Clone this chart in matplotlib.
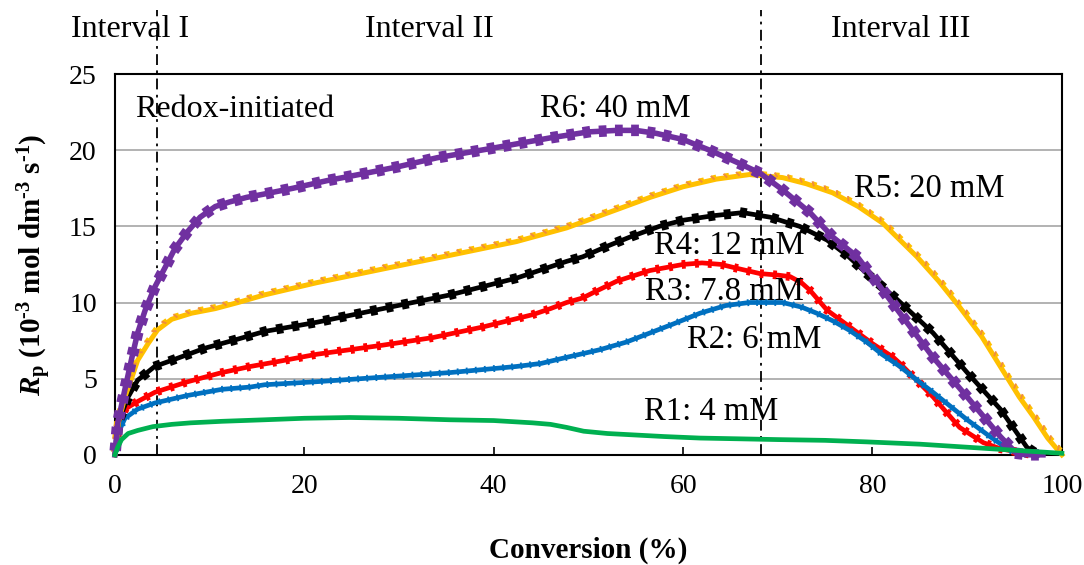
import matplotlib
matplotlib.use("Agg")
import matplotlib.pyplot as plt
import matplotlib.patheffects as pe

plt.rcParams['font.family'] = ['Liberation Serif', 'DejaVu Serif']
plt.rcParams['mathtext.fontset'] = 'custom'
plt.rcParams['mathtext.rm'] = 'Liberation Serif:bold'
plt.rcParams['mathtext.it'] = 'Liberation Serif:italic:bold'
plt.rcParams['mathtext.bf'] = 'Liberation Serif:bold'

# rate of polymerisation vs conversion, one pair of lists per run
conv_r1 = [0, 0.3, 0.7, 1.4, 2.4, 4, 6, 8, 11.3, 15.8, 20, 24.8, 30, 35.4, 40, 44.1, 46,
           47.7, 49.5, 52, 55, 58, 61.8, 66, 70, 75, 79.4, 85, 90, 95, 100]
rp_r1 = [0, 0.5, 1.0, 1.4, 1.6, 1.85, 2.0, 2.1, 2.2, 2.3, 2.4, 2.45, 2.4, 2.3, 2.25, 2.1, 2.0,
         1.8, 1.55, 1.4, 1.3, 1.2, 1.1, 1.05, 1.0, 0.95, 0.85, 0.7, 0.5, 0.3, 0.1]

conv_r2 = [0, 0.4, 1.06, 2.4, 4.2, 7.7, 11.3, 14.3, 15.8, 21.3, 28.3, 35.4, 42.4, 45, 47.7,
           51.2, 54, 56.5, 59, 61.8, 64.5, 67, 70.5, 72.5, 74.1, 75.8, 77.5, 79.4, 81, 82.9,
           84.5, 86.4, 88, 90, 92.4, 94.5, 96]
rp_r2 = [0, 1.5, 2.4, 3.0, 3.4, 3.9, 4.3, 4.45, 4.6, 4.8, 5.1, 5.4, 5.8, 6.0, 6.4,
         6.9, 7.4, 8.0, 8.6, 9.3, 9.8, 10.0, 10.0, 9.7, 9.3, 8.8, 8.2, 7.4, 6.6, 5.8,
         5.0, 4.1, 3.3, 2.3, 1.2, 0.3, 0]

conv_r3 = [0, 0.4, 1.06, 2.4, 4.2, 7.7, 11.3, 14.3, 17, 21.3, 28.3, 33.6, 38.9, 41.5, 44.1,
           46, 47.7, 49.4, 51, 53, 56.5, 60, 62, 64, 66, 68.1, 70, 71.3, 72.5, 73.4, 75.2,
           77.6, 80, 82.2, 82.9, 84.5, 86.4, 89.2, 91.7, 93.5, 95.2, 97]
rp_r3 = [0, 2.0, 3.0, 3.5, 4.1, 4.8, 5.4, 5.8, 6.1, 6.6, 7.2, 7.7, 8.4, 8.8, 9.2,
         9.6, 10.0, 10.3, 10.8, 11.4, 12.1, 12.5, 12.6, 12.5, 12.2, 11.9, 11.8, 11.7, 11.3, 10.8, 9.5,
         8.4, 7.3, 6.4, 6.0, 5.0, 3.8, 1.8, 0.8, 0.4, 0.2, 0]

conv_r4 = [0, 0.4, 1.4, 2.4, 4.2, 6, 9.5, 13, 15.8, 21.3, 28.3, 35.4, 42.4, 47.7, 49.4, 52,
           54.4, 57.5, 60, 63.2, 66.3, 69.2, 72.3, 75.2, 77.5, 79.4, 82.6, 86.4, 90, 93.5,
           96.3, 97.5]
rp_r4 = [0, 2.2, 3.8, 4.9, 5.8, 6.2, 7.0, 7.6, 8.1, 8.7, 9.6, 10.5, 11.6, 12.7, 13.0, 13.7,
         14.3, 15.0, 15.4, 15.7, 15.9, 15.6, 15.0, 14.1, 13.0, 11.9, 10.2, 8.0, 5.4, 3.0,
         0.5, 0]

conv_r5 = [0, 0.4, 1.06, 1.8, 2.4, 3.5, 4.5, 6.0, 8.1, 10.6, 13, 15.8, 21.3, 28.3, 35.4,
           42.4, 47.7, 53, 56.5, 60, 63.5, 67, 70.5, 73, 75.8, 78.5, 81.1, 84.7, 87, 89.2,
           91.5, 93.5, 95.5, 97, 98.5, 100]
rp_r5 = [0, 2.2, 3.8, 5.1, 6.2, 7.3, 8.2, 8.9, 9.3, 9.6, 10.0, 10.5, 11.3, 12.2, 13.1,
         14.0, 14.9, 16.1, 16.9, 17.6, 18.1, 18.4, 18.2, 17.8, 17.2, 16.3, 15.2, 13.0, 11.4, 9.7,
         7.8, 5.8, 3.8, 2.5, 1.1, 0]

conv_r6 = [0, 0.3, 1.06, 1.8, 2.4, 3.2, 4.2, 5.3, 6.3, 7.6, 9.0, 10.6, 12.1, 13.9, 15.6,
           18.8, 22.4, 26.6, 29.8, 34, 39.6, 45.9, 50, 53, 55, 57.2, 60, 62.8, 65.7, 68.1,
           70.5, 73.4, 75.8, 78.4, 81.1, 82.9, 86.4, 90, 93.5, 95.2, 96.5, 98]
rp_r6 = [0, 2.1, 4.3, 6.4, 8.0, 9.5, 11.0, 12.3, 13.5, 14.6, 15.6, 16.3, 16.6, 16.9, 17.1,
         17.5, 18.0, 18.5, 18.9, 19.5, 20.1, 20.8, 21.2, 21.3, 21.3, 21.1, 20.7, 20.0, 19.2, 18.5,
         17.4, 15.9, 14.3, 13.0, 10.8, 9.3, 6.4, 3.8, 1.2, 0.1, 0, 0]

run_labels = ['R1: 4 mM', 'R2: 6 mM', 'R3: 7.8 mM', 'R4: 12 mM', 'R5: 20 mM', 'R6: 40 mM']
interval_bounds = [4.4, 68.2]
interval_names = ['Interval I', 'Interval II', 'Interval III']


def ticks(spacing, length, width, color=None, sides=(90, -90)):
    # marker-like bumps laid along the curve
    out = []
    for ang in sides:
        kw = dict(spacing=spacing, angle=ang, length=length, linewidth=width, capstyle='butt')
        if color:
            kw['foreground'] = color
        out.append(pe.TickedStroke(**kw))
    return out


fig = plt.figure(figsize=(10.84, 5.65), dpi=100)
ax = fig.add_axes([0.106, 0.195, 0.8736, 0.674])

ax.set_xlim(0, 100)
ax.set_ylim(0, 25)
ax.set_yticks([0, 5, 10, 15, 20, 25])
ax.set_xticks([0, 20, 40, 60, 80, 100])
ax.grid(axis='y', color='#a6a6a6', lw=1.2)
ax.set_axisbelow(True)
for s in ax.spines.values():
    s.set_linewidth(1.5)
ax.tick_params(axis='x', direction='in', length=6, width=1.2, pad=14, labelsize=20)
ax.tick_params(axis='y', length=0, pad=13, labelsize=20)

# interval boundaries run up past the frame
for xb in interval_bounds:
    ax.axvline(xb, ymin=0, ymax=1.168, color='black', lw=1.3, dashes=(6, 3, 1.5, 3),
               clip_on=False, zorder=1)

ax.plot(conv_r3, rp_r3, color='#ff0000', lw=3.4, clip_on=False, zorder=3,
        path_effects=[pe.Normal()] + ticks(9.5, 0.33, 2.8))
ax.plot(conv_r2, rp_r2, color='#0070c0', lw=3.4, clip_on=False, zorder=3,
        path_effects=[pe.Normal()] + ticks(6.5, 0.38, 1.3))
ax.plot(conv_r4, rp_r4, color='black', lw=3.4, clip_on=False, zorder=3,
        path_effects=[pe.Normal()] + ticks(11.5, 0.31, 5.0))
# gold triangles: filled body on the upper side, orange outline edge on top
ax.plot(conv_r5, rp_r5, color='#ffc000', lw=3.6, clip_on=False, zorder=3,
        path_effects=[pe.Normal()]
        + ticks(9, 0.36, 3.0, sides=(90,))
        + ticks(9, 0.42, 1.4, color='#f08c3c', sides=(125,)))
ax.plot(conv_r6, rp_r6, color='#7030a0', lw=4.0, clip_on=False, zorder=3,
        path_effects=[pe.Normal()] + ticks(11.5, 0.36, 5.6))
ax.plot(conv_r1, rp_r1, color='#00b050', lw=3.4, clip_on=False, zorder=3)

label_pos = [(63.0, 2.3), (67.5, 7.0), (64.4, 10.17), (64.9, 13.2), (86.0, 16.93), (52.8, 22.2)]
for txt, (xt, yt) in zip(run_labels, label_pos):
    ax.text(xt, yt, txt, fontsize=23.5, ha='center', va='baseline', zorder=5)
ax.text(12.6, 22.2, 'Redox-initiated', fontsize=23, ha='center', va='baseline', zorder=5)

for name, xc in zip(interval_names, [1.6, 33.2, 83.0]):
    ax.text(xc, 27.43, name, fontsize=23, ha='center', va='baseline', clip_on=False)

ax.set_xlabel('Conversion (%)', fontsize=21, fontweight='bold', labelpad=27)
ax.set_ylabel(r'$\mathit{R}_{\mathrm{p}}$ (10$^{\text{-3}}$ mol dm$^{\text{-3}}$ s$^{\text{-1}}$)',
              fontsize=21, fontweight='bold', labelpad=11)

fig.savefig('out.png', dpi=100)
